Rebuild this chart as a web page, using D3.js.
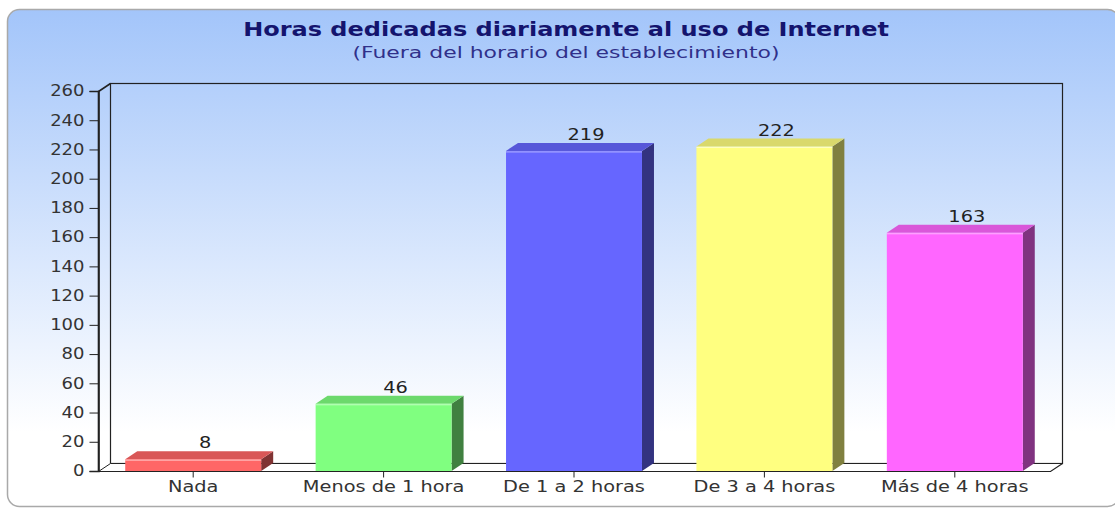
<!DOCTYPE html>
<html>
<head>
<meta charset="utf-8">
<script src="https://cdn.jsdelivr.net/npm/d3@7"></script>
<style>
  body { margin: 0; background: #fff; }
  svg { display: block; font-family: "DejaVu Sans", Verdana, sans-serif; }
</style>
</head>
<body>
<svg id="chart" width="1115" height="509"></svg>
<script>
const categories = ["Nada", "Menos de 1 hora", "De 1 a 2 horas", "De 3 a 4 horas", "Más de 4 horas"];
const values = [8, 46, 219, 222, 163];
const frontColors = ["#ff6666", "#80ff80", "#6666ff", "#ffff80", "#ff66ff"];
const topColors = ["#d95757", "#6cd96c", "#5757d9", "#d9d96c", "#d957d9"];
const sideColors = ["#803333", "#408040", "#333380", "#808040", "#803380"];
const yTicks = d3.range(0, 261, 20);

const svg = d3.select("#chart");

// 3d depth and the horizontal stretch of the original picture
const dx = 12, dy = -8;
const sx = 1.29;
const pLeft = 98, pRight = 1050, pTop = 91, pBottom = 471;

const defs = svg.append("defs");
const grad = defs.append("linearGradient").attr("id", "bg")
  .attr("x1", 0).attr("y1", 0).attr("x2", 0).attr("y2", 1);
grad.append("stop").attr("offset", "0%").attr("stop-color", "#a3c5fa");
grad.append("stop").attr("offset", "85%").attr("stop-color", "#ffffff");
grad.append("stop").attr("offset", "100%").attr("stop-color", "#ffffff");

// background box
svg.append("rect")
  .attr("x", 7.5).attr("y", 9.5).attr("width", 1112).attr("height", 497)
  .attr("rx", 12).attr("ry", 12)
  .attr("fill", "url(#bg)")
  .attr("stroke", "#a9a9a9").attr("stroke-width", 1.5);

// title
svg.append("text")
  .attr("transform", "translate(566,36) scale(1.2,1)")
  .attr("text-anchor", "middle")
  .attr("font-size", 20).attr("font-weight", "bold")
  .attr("fill", "#14146e")
  .text("Horas dedicadas diariamente al uso de Internet");
svg.append("text")
  .attr("transform", "translate(566,58) scale(1.33,1)")
  .attr("text-anchor", "middle")
  .attr("font-size", 16.5)
  .attr("fill", "#30308a")
  .text("(Fuera del horario del establecimiento)");

const x = d3.scaleBand().domain(categories).range([pLeft, pRight]).paddingInner(0).paddingOuter(0);
const y = d3.scaleLinear().domain([0, 260]).range([pBottom, pTop]);
const barW = x.bandwidth() * 0.714;

// walls
const g = svg.append("g");
g.append("rect")
  .attr("x", pLeft + dx + 0.5).attr("y", pTop + dy + 0.5)
  .attr("width", pRight - pLeft).attr("height", pBottom - pTop)
  .attr("fill", "none").attr("stroke", "#222").attr("stroke-width", 1.2);
// left wall
g.append("path")
  .attr("d", `M${pLeft + 0.5},${pBottom + 0.5}V${pTop + 0.5}L${pLeft + dx + 0.5},${pTop + dy + 0.5}`)
  .attr("fill", "none").attr("stroke", "#222").attr("stroke-width", 1.6);
// floor
g.append("path")
  .attr("d", `M${pLeft + dx},${pBottom + dy + 0.5}H${pRight + dx}V${pBottom + dy + 1}L${pRight},${pBottom + 0.5}H${pLeft}Z`)
  .attr("fill", "#ffffff").attr("stroke", "none");
g.append("path")
  .attr("d", `M${pLeft + 0.5},${pBottom + 0.5}L${pLeft + dx + 0.5},${pBottom + dy + 0.5}`)
  .attr("fill", "none").attr("stroke", "#222").attr("stroke-width", 1);
g.append("path")
  .attr("d", `M${pLeft + 0.5},${pBottom + 0.5}H${pRight + 0.5}L${pRight + dx + 0.5},${pBottom + dy + 0.5}`)
  .attr("fill", "none").attr("stroke", "#222").attr("stroke-width", 1.2);
g.append("path")
  .attr("d", `M${pLeft + dx + 0.5},${pBottom + dy + 0.5}H${pRight + dx + 0.5}`)
  .attr("fill", "none").attr("stroke", "#222").attr("stroke-width", 1.2);

// bars
const bars = svg.append("g").selectAll("g").data(values).join("g");
bars.each(function(v, i) {
  const b = d3.select(this);
  const x0 = x(categories[i]) + (x.bandwidth() - barW) / 2;
  const x1 = x0 + barW;
  const yt = y(v);
  // side
  b.append("path")
    .attr("d", `M${x1},${pBottom}L${x1 + dx},${pBottom + dy}L${x1 + dx},${yt + dy}L${x1},${yt}Z`)
    .attr("fill", sideColors[i]);
  // top
  b.append("path")
    .attr("d", `M${x0},${yt}L${x0 + dx},${yt + dy}L${x1 + dx},${yt + dy}L${x1},${yt}Z`)
    .attr("fill", topColors[i]);
  // front
  b.append("rect")
    .attr("x", x0).attr("y", yt).attr("width", barW).attr("height", pBottom - yt)
    .attr("fill", frontColors[i]);
  b.append("line")
    .attr("x1", x0).attr("x2", x1).attr("y1", yt + 1).attr("y2", yt + 1)
    .attr("stroke", "#ffffff").attr("stroke-opacity", 0.5);
  b.append("text")
    .attr("transform", `translate(${(x0 + x1) / 2 + dx},${yt + dy - 3}) scale(${sx},1)`)
    .attr("text-anchor", "middle")
    .attr("font-size", 15).attr("fill", "#222")
    .text(v);
});

// front axis line over bars
svg.append("path")
  .attr("d", `M${pLeft + 0.5},${pBottom + 0.5}H${pRight + 0.5}`)
  .attr("stroke", "#222").attr("stroke-width", 1.2);

// y axis
const yAxis = svg.append("g")
  .attr("transform", `translate(${pLeft + 0.5},0)`)
  .call(d3.axisLeft(y).tickValues(yTicks).tickSize(9).tickPadding(3));
yAxis.select(".domain").attr("stroke", "#222").attr("stroke-width", 1.6);
yAxis.selectAll(".tick line").attr("stroke", "#222");
yAxis.selectAll(".tick text")
  .attr("x", null)
  .attr("transform", "translate(-14,0) scale(1.2,1)")
  .attr("font-size", 15).attr("fill", "#333")
  .attr("font-family", "DejaVu Sans, Verdana, sans-serif");

// x axis
const xAxis = svg.append("g")
  .attr("transform", `translate(0,${pBottom + 0.5})`)
  .call(d3.axisBottom(x).tickSize(6).tickPadding(4));
xAxis.select(".domain").remove();
xAxis.selectAll(".tick line").attr("stroke", "#222");
xAxis.selectAll(".tick text")
  .attr("transform", `scale(${sx},1)`)
  .attr("font-size", 15).attr("fill", "#333")
  .attr("font-family", "DejaVu Sans, Verdana, sans-serif");
</script>
</body>
</html>
